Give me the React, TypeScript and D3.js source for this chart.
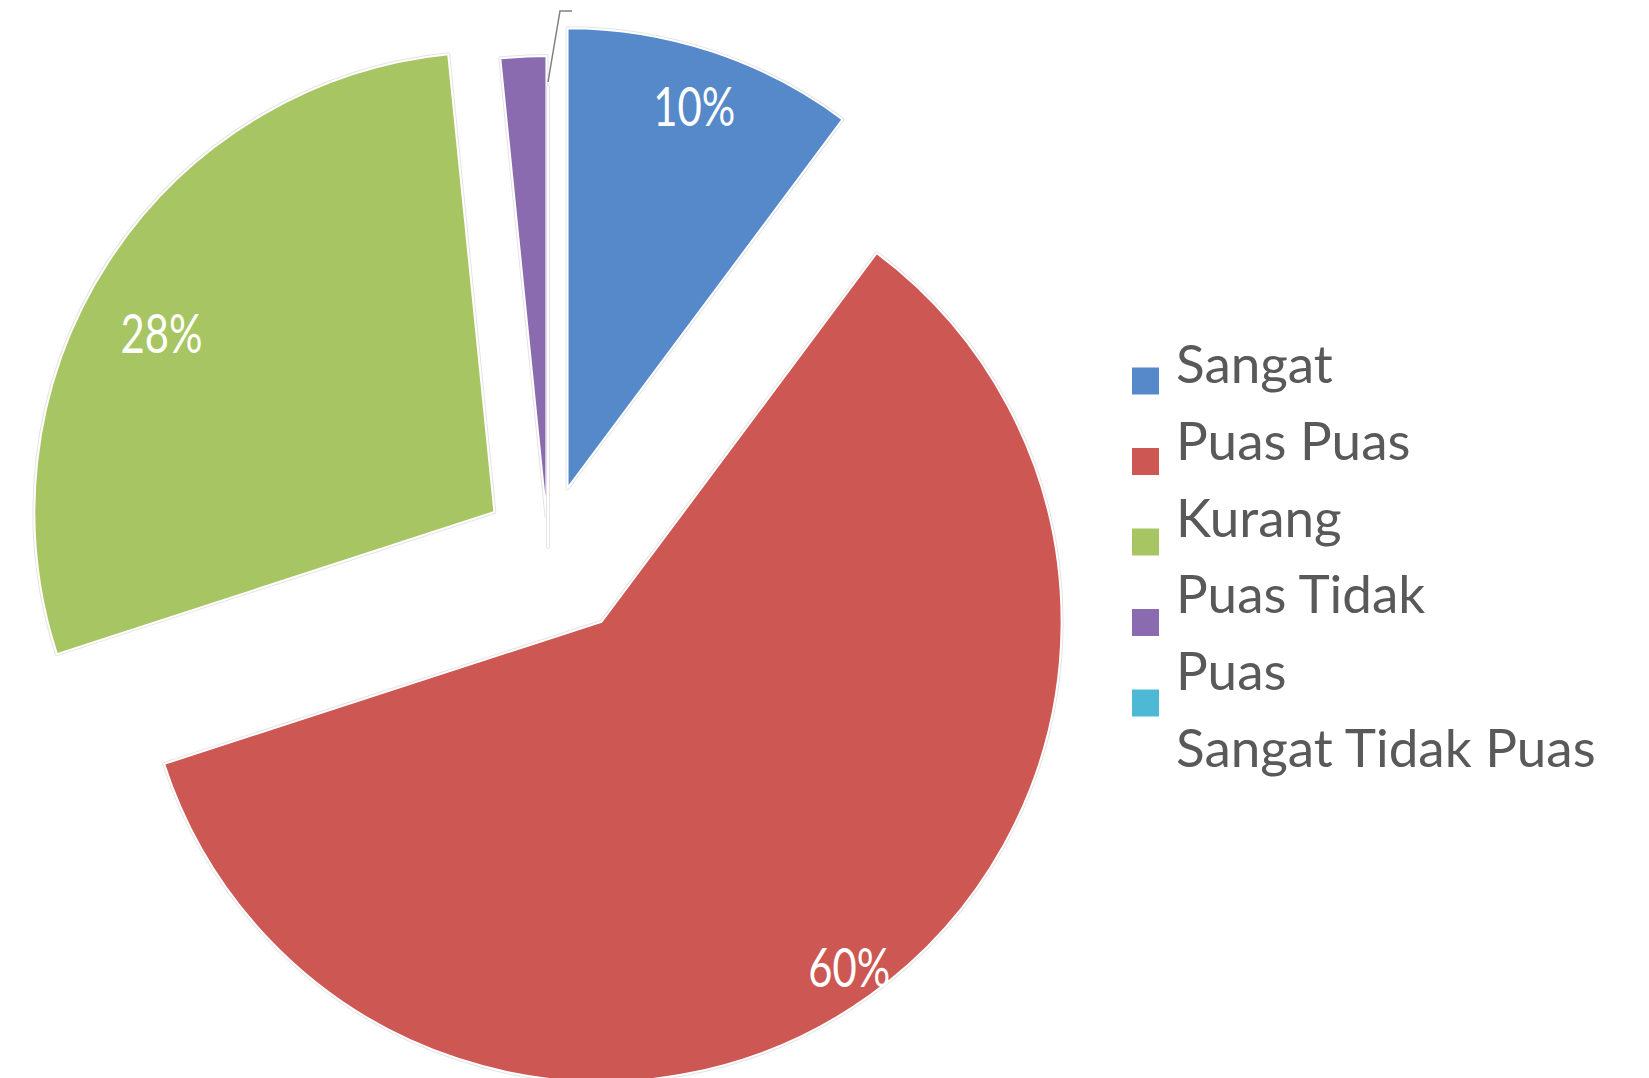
import React from 'react';
import * as d3 from 'd3';

const categories = ['Sangat Puas', 'Puas', 'Kurang Puas', 'Tidak Puas', 'Sangat Tidak Puas'];
const values = [10.2, 59.8, 28.4, 1.6, 0];
const percentLabels = ['10%', '60%', '28%', '', ''];
const legendLines = ['Sangat', 'Puas Puas', 'Kurang', 'Puas Tidak', 'Puas', 'Sangat Tidak Puas'];
const colors = ['#5589C9', '#CD5753', '#A7C562', '#8A6BAF', '#4EB9D4'];

// layout
const W = 1649;
const H = 1078;
const cx = 548;
const cy = 547;
const R = 460;
const explode = [62, 92, 64, 31, 0];
const labelRadius = [0.874, 0.924, 0.822];
const labelAngleShift = [0, 0, -0.084];

export default function App() {
  const pie = d3.pie<number>().sort(null).value((d) => d);
  const arcs = pie(values);
  const arcGen = d3.arc<d3.PieArcDatum<number>>().innerRadius(0).outerRadius(R);

  const dirOf = (ang: number, d: number) => [Math.sin(ang) * d, -Math.cos(ang) * d];
  const offsetOf = (a: d3.PieArcDatum<number>, d: number) =>
    dirOf((a.startAngle + a.endAngle) / 2, d);

  const cyan = arcs[4];
  const [cox, coy] = offsetOf(cyan, explode[4]);
  const outerX = cx + cox + Math.sin(cyan.endAngle) * R;
  const outerY = cy + coy - Math.cos(cyan.endAngle) * R;
  const leader = d3.path();
  leader.moveTo(outerX, outerY - 5);
  leader.lineTo(outerX + 12, 11);
  leader.lineTo(outerX + 24, 11);

  const legendScale = d3.scaleLinear().domain([0, 1]).range([381, 461.5]);
  const lineScale = d3.scaleLinear().domain([0, 1]).range([383, 459.8]);

  return (
    <svg
      width={W}
      height={H}
      style={{ position: 'absolute', left: 0, top: 0, background: '#fff' }}
      xmlns="http://www.w3.org/2000/svg"
    >
      <defs>
        <filter id="blur" x="-50%" y="-10%" width="200%" height="120%">
          <feGaussianBlur stdDeviation="2" />
        </filter>
      </defs>
      {arcs.map((a, i) => {
        const [ox, oy] = offsetOf(a, explode[i]);
        const d = arcGen(a) || '';
        return (
          <g key={categories[i]} transform={`translate(${cx + ox},${cy + oy})`}>
            <path d={d} fill="none" stroke="#e4e4e4" strokeWidth={4} strokeLinejoin="round" />
            <path d={d} fill={colors[i]} stroke="#ffffff" strokeWidth={2} strokeLinejoin="round" />
          </g>
        );
      })}
      {/* shadow of the zero slice */}
      <line
        x1={cx + cox + 8}
        x2={cx + cox + 8}
        y1={cy + coy - 0.73 * R}
        y2={cy + coy - 0.28 * R}
        stroke="#9a9a9a"
        strokeWidth={5}
        opacity={0.6}
        filter="url(#blur)"
      />
      <path d={leader.toString()} fill="none" stroke="#808080" strokeWidth={1.5} />
      {arcs.map((a, i) => {
        if (!percentLabels[i]) return null;
        const [ox, oy] = offsetOf(a, explode[i]);
        const mid = (a.startAngle + a.endAngle) / 2 + labelAngleShift[i];
        const [lx, ly] = dirOf(mid, R * labelRadius[i]);
        return (
          <text
            key={'l' + i}
            x={cx + ox + lx}
            y={cy + oy + ly}
            dy="0.36em"
            textAnchor="middle"
            fill="#ffffff"
            fontFamily="Lato, 'Open Sans', sans-serif"
            fontSize={55}
            textLength={82}
            lengthAdjust="spacingAndGlyphs"
          >
            {percentLabels[i]}
          </text>
        );
      })}
      {colors.map((c, i) => (
        <rect
          key={'m' + i}
          x={1132}
          y={legendScale(i) - 13.5}
          width={27}
          height={27}
          fill={c}
        />
      ))}
      {legendLines.map((t, i) => (
        <text
          key={'t' + i}
          x={1176}
          y={lineScale(i)}
          fill="#595959"
          fontFamily="Lato, 'Open Sans', sans-serif"
          fontSize={53}
        >
          {t}
        </text>
      ))}
    </svg>
  );
}
